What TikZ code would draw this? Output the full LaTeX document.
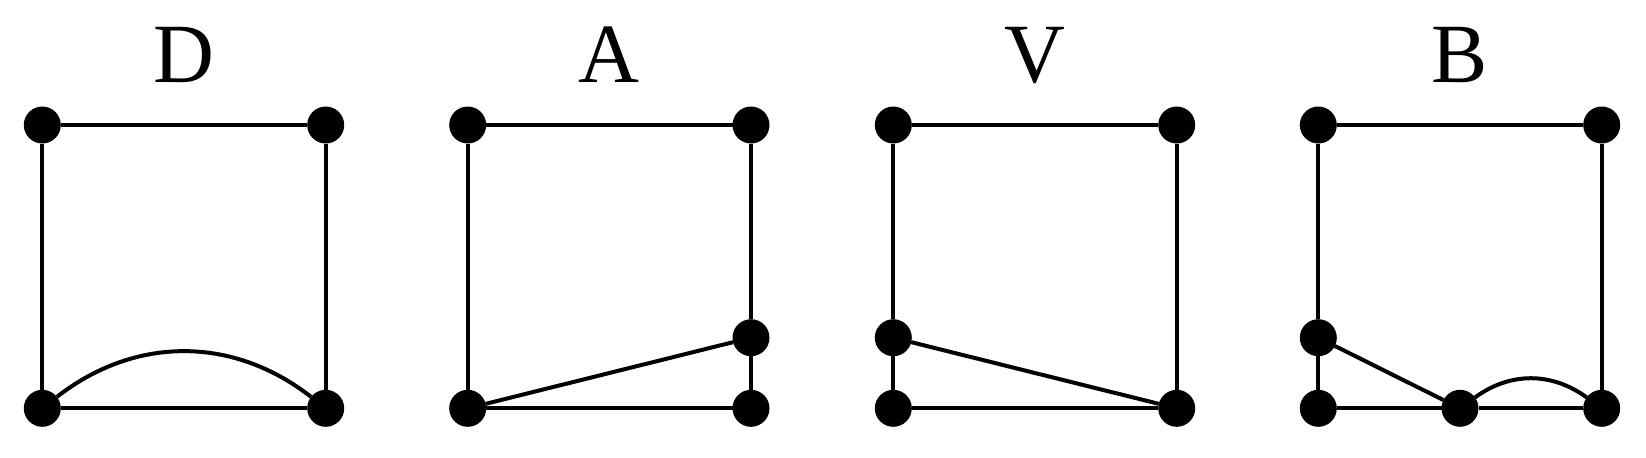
\documentclass[tikz,border=0pt]{standalone}
\usepackage{fontspec}
\setmainfont{Liberation Serif}
\usetikzlibrary{positioning}

\begin{document}
\begin{tikzpicture}[x=0.02cm,y=-0.02cm,line width=0.08cm]
  \tikzset{vtx/.style={circle,fill=black,inner sep=0pt,outer sep=0pt,minimum size=0.74cm}}
  \tikzset{ttl/.style={anchor=base,inner sep=0pt,font=\fontsize{48}{50}\selectfont}}
  \useasboundingbox (0,0) rectangle (1646,457);
  % D
  \node[ttl] (tD) at (184,82) {D};
  \node[vtx] (d1) at (42.3,125) {};
  \node[vtx] (d2) at (325.7,125) {};
  \node[vtx] (d3) at (42.3,408.3) {};
  \node[vtx] (d4) at (325.7,408.3) {};
  \draw (d1)--(d2)--(d4)--(d3)--(d1);
  \draw (d3) to[bend left=38] (d4);
  % A
  \node[ttl] (tA) at (609.3,82) {A};
  \node[vtx] (a1) at (467.7,125) {};
  \node[vtx] (a2) at (751,125) {};
  \node[vtx] (a3) at (467.7,408.3) {};
  \node[vtx] (a4) at (751,408.3) {};
  \node[vtx] (a5) at (751,337.7) {};
  \draw (a1)--(a2)--(a5)--(a4)--(a3)--(a1);
  \draw (a3)--(a5);
  % V
  \node[ttl] (tV) at (1035,82) {V};
  \node[vtx] (v1) at (893.3,125) {};
  \node[vtx] (v2) at (1176.7,125) {};
  \node[vtx] (v3) at (893.3,408.3) {};
  \node[vtx] (v4) at (1176.7,408.3) {};
  \node[vtx] (v5) at (893.3,337.7) {};
  \draw (v1)--(v2)--(v4)--(v3)--(v5)--(v1);
  \draw (v5)--(v4);
  % B
  \node[ttl] (tB) at (1460,82) {B};
  \node[vtx] (b1) at (1318.3,125) {};
  \node[vtx] (b2) at (1601.7,125) {};
  \node[vtx] (b3) at (1318.3,408.3) {};
  \node[vtx] (b4) at (1601.7,408.3) {};
  \node[vtx] (b5) at (1318.3,337.7) {};
  \node[vtx] (b6) at (1460,408.3) {};
  \draw (b1)--(b2)--(b4)--(b6)--(b3)--(b5)--(b1);
  \draw (b5)--(b6);
  \draw (b6) to[bend left=36] (b4);
\end{tikzpicture}
\end{document}
